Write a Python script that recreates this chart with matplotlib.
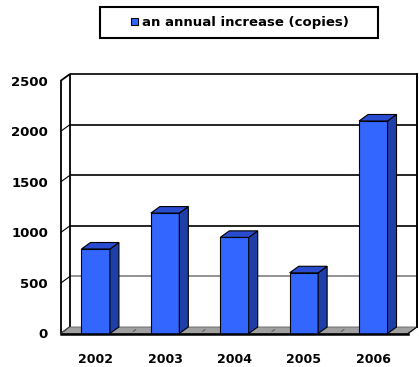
import matplotlib
matplotlib.use("Agg")
import matplotlib.pyplot as plt
from matplotlib.patches import Polygon, Rectangle
import numpy as np

categories = ["2002", "2003", "2004", "2005", "2006"]
values = [835, 1190, 950, 600, 2100]
yticks = [0, 500, 1000, 1500, 2000, 2500]
legend_label = "an annual increase (copies)"

FRONT = "#3366ff"
SIDE = "#1f3fa8"
TOP = "#2a4cd0"

W, H = 419, 367
fig = plt.figure(figsize=(W / 100, H / 100), dpi=100)
left_px, right_px, bottom_px, top_px = 61, 408, 333.5, 80.5
ax = fig.add_axes([left_px / W, (H - bottom_px) / H,
                   (right_px - left_px) / W, (bottom_px - top_px) / H])
ax.set_xlim(-0.5, len(categories) - 0.5)
ax.set_ylim(0, 2500)
for s in ax.spines.values():
    s.set_visible(False)

# depth offset in data units
px_x = (len(categories)) / (right_px - left_px)
px_y = 2500 / (bottom_px - top_px)
dx = 9 * px_x
dy = 6.5 * px_y
x0, x1 = -0.5, len(categories) - 0.5
ymax = 2500

# back wall gridlines
for v in yticks[1:]:
    col = "#808080" if v == 500 else "black"
    ax.plot([x0 + dx, x1 + dx], [v + dy, v + dy], color=col, lw=1.2,
            zorder=1, clip_on=False, solid_capstyle="butt")
ax.plot([x1 + dx, x1 + dx], [dy, ymax + dy], color="black", lw=1.4,
        zorder=1, clip_on=False)

# left wall
ax.add_patch(Polygon([(x0, 0), (x0 + dx, dy), (x0 + dx, ymax + dy), (x0, ymax)],
                     closed=True, facecolor="white", edgecolor="black", lw=1.3,
                     zorder=2, clip_on=False))
for v in yticks[1:-1]:
    ax.plot([x0, x0 + dx], [v, v + dy], color="black", lw=0.8, zorder=2,
            clip_on=False)

# floor
ax.add_patch(Polygon([(x0, 0), (x1, 0), (x1 + dx, dy), (x0 + dx, dy)],
                     closed=True, facecolor="#a0a0a0", edgecolor="#606060",
                     lw=0.6, zorder=2, clip_on=False))
for k in range(len(categories) + 1):
    xx = x0 + k
    ax.plot([xx + dx * 0.3, xx + dx * 0.6], [dy * 0.3, dy * 0.6],
            color="#505050", lw=0.6, zorder=2, clip_on=False)
ax.plot([x0, x1], [0, 0], color="black", lw=1.8, zorder=5, clip_on=False)
ax.plot([x1, x1 + dx], [0, dy], color="black", lw=0.8, zorder=5, clip_on=False)

# bars
xs = np.arange(len(categories))
bw = 0.41
ax.bar(xs, values, width=bw, color=FRONT, edgecolor="black", lw=0.8, zorder=4)
for x, v in zip(xs, values):
    r = x + bw / 2
    l = x - bw / 2
    ax.add_patch(Polygon([(r, 0), (r + dx, dy), (r + dx, v + dy), (r, v)],
                         closed=True, facecolor=SIDE, edgecolor="black",
                         lw=0.8, zorder=4, clip_on=False))
    ax.add_patch(Polygon([(l, v), (r, v), (r + dx, v + dy), (l + dx, v + dy)],
                         closed=True, facecolor=TOP, edgecolor="black",
                         lw=0.8, zorder=4, clip_on=False))

ax.set_yticks(yticks)
ax.set_yticklabels([str(t) for t in yticks], fontsize=9.5, fontweight="heavy")
ax.set_xticks(xs)
ax.set_xticklabels(categories, fontsize=9, fontweight="heavy")
ax.tick_params(axis="y", length=0, pad=9.4)
ax.tick_params(axis="x", length=0, pad=14)

# legend
fig.patches.append(Rectangle((100 / W, 1 - 38 / H), 278 / W, 31 / H,
                             transform=fig.transFigure, facecolor="white",
                             edgecolor="black", lw=1.5))
fig.patches.append(Rectangle((131 / W, 1 - 25 / H), 7 / W, 7 / H,
                             transform=fig.transFigure, facecolor=FRONT,
                             edgecolor="black", lw=0.8))
fig.text(142 / W, 1 - 22.5 / H, legend_label, fontsize=9.5, fontweight="heavy",
         ha="left", va="center")

fig.savefig("out.png", dpi=100)
